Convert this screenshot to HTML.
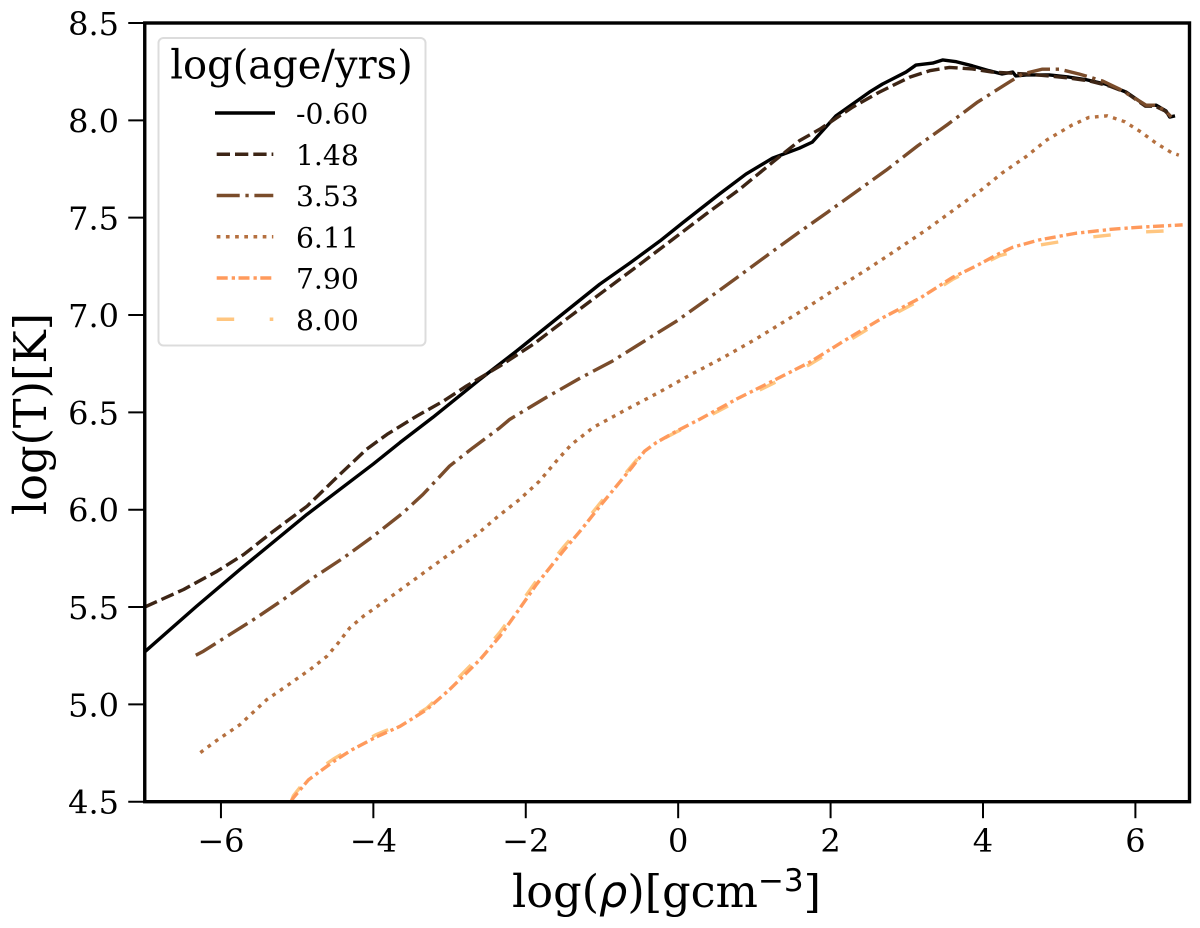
<!DOCTYPE html>
<html>
<head>
<meta charset="utf-8">
<style>
html,body{margin:0;padding:0;background:#fff;}
svg{display:block;}
text{font-family:"DejaVu Serif","Liberation Serif",serif;fill:#000;}
</style>
</head>
<body>
<svg id="chart" xmlns="http://www.w3.org/2000/svg" width="1200" height="928" viewBox="0 0 1200 928">
  <g id="series-layer"></g>
  <g id="axis-layer"></g>
  <g id="legend-layer">
    <rect x="158.5" y="38" width="267" height="307.5" rx="5" fill="#fff" fill-opacity="0.8" stroke="#dcdcdc" stroke-width="2"/>
    <text x="291.5" y="78.5" font-size="40" text-anchor="middle">log(age/yrs)</text>
  </g>
  <text x="666.5" y="907" font-size="44.6" text-anchor="middle">log(<tspan style="font-family:'DejaVu Sans',sans-serif;font-style:italic">ρ</tspan>)[gcm<tspan font-size="31" dy="-16" style="font-family:'DejaVu Sans',sans-serif">−3</tspan><tspan dy="16">]</tspan></text>
  <text transform="translate(46,414) rotate(-90)" font-size="44.6" text-anchor="middle">log(T)[K]</text>
</svg>
<script>
var xTicks = [-6, -4, -2, 0, 2, 4, 6];
var xTickLabels = ['−6', '−4', '−2', '0', '2', '4', '6'];
var yTicks = [4.5, 5, 5.5, 6, 6.5, 7, 7.5, 8, 8.5];
var yTickLabels = ['4.5', '5.0', '5.5', '6.0', '6.5', '7.0', '7.5', '8.0', '8.5'];
var xDomain = [-7, 6.71];
var yDomain = [4.5, 8.5];

var ageLabels = ['-0.60', '1.48', '3.53', '6.11', '7.90', '8.00'];
var seriesColors = ['#000000', '#3d2515', '#7a4c2b', '#b5703f', '#ff9a5c', '#ffc680'];
var seriesDashes = ['', '13.3 5', '23 5.7 3.3 5.7', '3.7 5.5', '11 4 3.3 3.5', '17.5 35.5'];

var rho0 = [-7, -6.32, -5.75, -4.87, -4, -3.65, -3.22, -2.6, -2.12, -1.55, -1.03, -0.64, -0.24, 0.06, 0.54, 0.89, 1.24, 1.59, 1.76, 2.07, 2.51, 2.68, 2.99, 3.12, 3.34, 3.47, 3.65, 3.86, 4.08, 4.25, 4.39, 4.43, 4.57, 4.87, 5.13, 5.35, 5.61, 5.88, 6.14, 6.27, 6.4, 6.45, 6.52];
var temp0 = [5.27, 5.504, 5.693, 5.976, 6.235, 6.345, 6.474, 6.67, 6.815, 6.995, 7.158, 7.265, 7.38, 7.474, 7.621, 7.724, 7.806, 7.857, 7.888, 8.023, 8.145, 8.186, 8.248, 8.284, 8.294, 8.31, 8.301, 8.28, 8.255, 8.238, 8.248, 8.228, 8.233, 8.233, 8.222, 8.209, 8.186, 8.145, 8.075, 8.078, 8.049, 8.017, 8.023];

var rho1 = [-7, -6.49, -6.05, -5.7, -5.31, -4.87, -4.44, -4.09, -3.82, -3.43, -3.08, -2.78, -2.34, -1.9, -1.47, -1.03, -0.59, -0.07, 0.37, 0.81, 1.24, 1.59, 1.86, 2.29, 2.64, 3.04, 3.3, 3.56, 3.86, 4.12, 4.56, 4.87, 5.13, 5.4, 5.66, 5.87, 6.13, 6.26, 6.39, 6.47];
var temp1 = [5.5, 5.59, 5.684, 5.77, 5.89, 6.018, 6.181, 6.31, 6.387, 6.481, 6.558, 6.635, 6.738, 6.85, 6.978, 7.107, 7.235, 7.389, 7.52, 7.647, 7.785, 7.895, 7.955, 8.068, 8.145, 8.222, 8.255, 8.272, 8.264, 8.248, 8.238, 8.228, 8.217, 8.202, 8.176, 8.145, 8.073, 8.073, 8.048, 8.017];

var rho2 = [-6.33, -6.23, -5.92, -5.57, -5.18, -4.79, -4.39, -4, -3.61, -3.35, -3, -2.69, -2.34, -2.21, -1.73, -1.29, -0.86, -0.44, -0.02, 0.37, 0.76, 1.16, 1.55, 1.96, 2.73, 3.14, 3.53, 3.93, 4.35, 4.52, 4.78, 5, 5.26, 5.57, 5.79, 6.14, 6.27, 6.4, 6.47];
var temp2 = [5.252, 5.273, 5.35, 5.436, 5.539, 5.65, 5.753, 5.864, 5.984, 6.078, 6.224, 6.319, 6.421, 6.464, 6.577, 6.675, 6.764, 6.867, 6.969, 7.078, 7.189, 7.304, 7.415, 7.528, 7.744, 7.868, 7.977, 8.094, 8.198, 8.238, 8.263, 8.263, 8.238, 8.202, 8.161, 8.078, 8.078, 8.047, 8.017];

var rho3 = [-6.27, -6.08, -5.75, -5.4, -5.11, -4.81, -4.61, -4.46, -4.31, -4.13, -3.82, -3.43, -3.04, -2.64, -2.36, -2.08, -1.82, -1.58, -1.4, -1.12, -0.68, -0.26, 0.17, 0.59, 1.03, 1.64, 2.05, 2.47, 2.88, 3.28, 3.69, 3.98, 4.25, 4.57, 4.84, 5.17, 5.39, 5.63, 5.86, 6.07, 6.27, 6.47, 6.57];
var temp3 = [4.752, 4.808, 4.896, 5.024, 5.102, 5.185, 5.247, 5.316, 5.393, 5.453, 5.539, 5.65, 5.761, 5.873, 5.967, 6.053, 6.147, 6.258, 6.335, 6.421, 6.515, 6.601, 6.695, 6.781, 6.879, 7.026, 7.13, 7.232, 7.338, 7.444, 7.561, 7.643, 7.729, 7.815, 7.9, 7.976, 8.015, 8.023, 7.993, 7.941, 7.883, 7.835, 7.821];

var rho4 = [-5.08, -5.05, -4.85, -4.52, -4.28, -3.96, -3.65, -3.3, -3, -2.6, -2.34, -2.12, -1.86, -1.51, -1.27, -0.99, -0.81, -0.61, -0.44, -0.29, -0.02, 0.28, 0.76, 1.24, 1.72, 2.21, 2.69, 3.17, 3.6, 3.91, 4.22, 4.39, 4.74, 5.22, 5.7, 6.14, 6.62];
var temp4 = [4.5, 4.52, 4.613, 4.707, 4.767, 4.833, 4.887, 4.973, 5.076, 5.23, 5.35, 5.47, 5.616, 5.787, 5.898, 6.036, 6.121, 6.216, 6.301, 6.344, 6.404, 6.464, 6.567, 6.661, 6.756, 6.875, 6.987, 7.086, 7.193, 7.252, 7.317, 7.348, 7.386, 7.42, 7.441, 7.453, 7.463];

var rho5 = [-5.08, -5.05, -4.85, -4.52, -4.28, -3.96, -3.65, -3.3, -3, -2.6, -2.34, -2.12, -1.86, -1.51, -1.27, -0.99, -0.81, -0.61, -0.44, -0.29, -0.02, 0.28, 0.76, 1.24, 1.72, 2.21, 2.69, 3.17, 3.6, 3.91, 4.22, 4.67, 5.35, 6.02, 6.61];
var temp5 = [4.5, 4.53, 4.63, 4.72, 4.775, 4.845, 4.895, 4.98, 5.09, 5.25, 5.37, 5.49, 5.635, 5.805, 5.915, 6.05, 6.13, 6.225, 6.305, 6.345, 6.4, 6.455, 6.555, 6.648, 6.744, 6.862, 6.975, 7.075, 7.183, 7.245, 7.305, 7.355, 7.398, 7.425, 7.436];

var plotLeft = 144.75, plotRight = 1189.5, plotTop = 23, plotBottom = 801.7;
var NS = 'http://www.w3.org/2000/svg';

function xScale(v) { return plotLeft + (v - xDomain[0]) / (xDomain[1] - xDomain[0]) * (plotRight - plotLeft); }
function yScale(v) { return plotBottom - (v - yDomain[0]) / (yDomain[1] - yDomain[0]) * (plotBottom - plotTop); }
function make(tag, attrs) {
  var el = document.createElementNS(NS, tag);
  for (var k in attrs) { el.setAttribute(k, attrs[k]); }
  return el;
}

var seriesLayer = document.getElementById('series-layer');
var axisLayer = document.getElementById('axis-layer');
var legendLayer = document.getElementById('legend-layer');

var defs = make('defs', {});
var clip = make('clipPath', { id: 'plot-clip' });
clip.appendChild(make('rect', { x: plotLeft, y: plotTop, width: plotRight - plotLeft, height: plotBottom - plotTop }));
defs.appendChild(clip);
seriesLayer.appendChild(defs);
seriesLayer.setAttribute('clip-path', 'url(#plot-clip)');

var rhoSeries = [rho0, rho1, rho2, rho3, rho4, rho5];
var tempSeries = [temp0, temp1, temp2, temp3, temp4, temp5];
var drawOrder = [0, 1, 2, 3, 5, 4];

drawOrder.forEach(function (i) {
  var pts = rhoSeries[i].map(function (r, j) { return xScale(r).toFixed(2) + ',' + yScale(tempSeries[i][j]).toFixed(2); }).join(' ');
  var line = make('polyline', { points: pts, fill: 'none', stroke: seriesColors[i], 'stroke-width': 3.4, 'stroke-linejoin': 'round' });
  if (seriesDashes[i]) { line.setAttribute('stroke-dasharray', seriesDashes[i]); }
  
  
  line.setAttribute('data-age', ageLabels[i]);
  seriesLayer.appendChild(line);
});

var frame = make('rect', { x: plotLeft, y: plotTop, width: plotRight - plotLeft, height: plotBottom - plotTop, fill: 'none', stroke: '#000', 'stroke-width': 3.4 });


axisLayer.appendChild(frame);

xTicks.forEach(function (t, i) {
  var x = xScale(t);
  var tick = make('line', { x1: x, x2: x, y1: plotBottom, y2: plotBottom + 16.5, stroke: '#000', 'stroke-width': 2 });
  
  
  axisLayer.appendChild(tick);
  var label = make('text', { x: x, y: 852, 'font-size': 32, 'text-anchor': 'middle' });
  label.textContent = xTickLabels[i];
  
  
  axisLayer.appendChild(label);
});

yTicks.forEach(function (t, i) {
  var y = yScale(t);
  var tick = make('line', { x1: plotLeft, x2: plotLeft - 16.5, y1: y, y2: y, stroke: '#000', 'stroke-width': 2 });
  
  
  axisLayer.appendChild(tick);
  var label = make('text', { x: 119, y: y + 12, 'font-size': 32, 'text-anchor': 'end' });
  label.textContent = yTickLabels[i];
  
  
  axisLayer.appendChild(label);
});

var legendRowStart = 113, legendRowStep = 41.25;
ageLabels.forEach(function (lab, i) {
  var y = legendRowStart + i * legendRowStep;
  var sample = make('line', { x1: 216.7, x2: 273.3, y1: y, y2: y, stroke: seriesColors[i], 'stroke-width': 3.4 });
  if (seriesDashes[i]) { sample.setAttribute('stroke-dasharray', seriesDashes[i]); } else { sample.setAttribute('stroke-linecap', 'square'); }
  
  
  legendLayer.appendChild(sample);
  var text = make('text', { x: 296, y: y + 10.5, 'font-size': 28.2 });
  text.textContent = lab;
  
  
  legendLayer.appendChild(text);
});
</script>
</body>
</html>
